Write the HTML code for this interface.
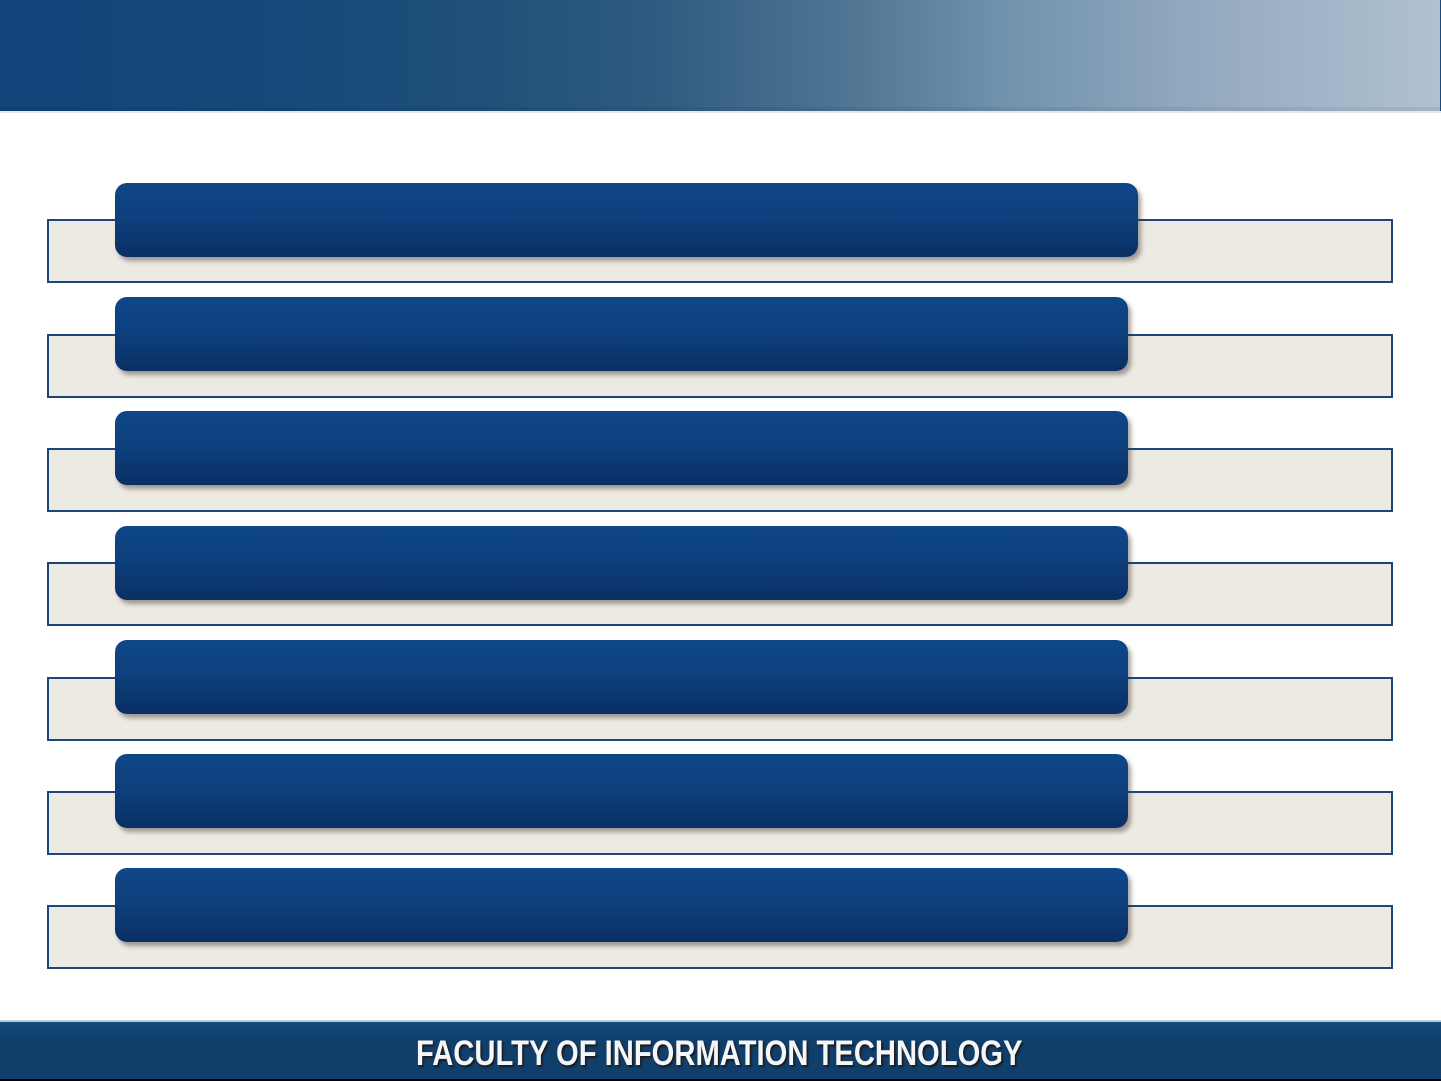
<!DOCTYPE html>
<html><head><meta charset="utf-8"><style>
html,body{margin:0;padding:0;}
body{width:1441px;height:1081px;position:relative;overflow:hidden;background:#ffffff;font-family:"Liberation Sans",sans-serif;}
.hdr{position:absolute;left:0;top:0;width:1441px;height:111px;
background:linear-gradient(to right,#12457a 0%,#17497a 20%,#1f5079 33%,#2e5a80 45%,#4a7190 57%,#7193ae 70%,#93a9bf 83%,#b0c1d1 100%);}
.hdr:after{content:"";position:absolute;left:0;right:0;bottom:0;height:4px;background:rgba(0,0,0,0.06);}
.hedge{position:absolute;left:1440px;top:0;width:1px;height:111px;background:#1a4a7a;}
.hline{position:absolute;left:0;top:111px;width:1441px;height:2px;background:#dfe8ef;}
.box{position:absolute;left:47px;width:1342px;height:60px;background:#edeae4;border:2px solid #1d477c;}
.pill{position:absolute;left:115px;height:74px;border-radius:12px;
background:linear-gradient(to bottom,#0f4788 0%,#0d3f7c 50%,#0a2f64 100%);
box-shadow:3px 4px 5px rgba(60,50,40,0.45);}
.ftr{position:absolute;left:0;top:1022px;width:1441px;height:57px;
background:linear-gradient(to bottom,#1a4a75 0%,#0f4275 20%,#113f6c 35%,#113f6b 100%);}
.fline{position:absolute;left:0;top:1020px;width:1441px;height:2px;background:#b9cbd8;}
.fblk{position:absolute;left:0;top:1079px;width:1441px;height:2px;background:#000;}
.ftxt{position:absolute;left:416px;top:1034px;font-weight:bold;font-size:35px;line-height:40px;color:#f4f6f8;white-space:nowrap;
transform:scaleX(0.834);transform-origin:0 0;text-shadow:2px 2px 2px #1b1b1b;}
</style></head><body>
<div class="hdr"></div>
<div class="hedge"></div>
<div class="hline"></div>

<div class="box" style="top:219px"></div>
<div class="pill" style="top:183px;width:1023px"></div>

<div class="box" style="top:334px"></div>
<div class="pill" style="top:297px;width:1013px"></div>

<div class="box" style="top:448px"></div>
<div class="pill" style="top:411px;width:1013px"></div>

<div class="box" style="top:562px"></div>
<div class="pill" style="top:526px;width:1013px"></div>

<div class="box" style="top:677px"></div>
<div class="pill" style="top:640px;width:1013px"></div>

<div class="box" style="top:791px"></div>
<div class="pill" style="top:754px;width:1013px"></div>

<div class="box" style="top:905px"></div>
<div class="pill" style="top:868px;width:1013px"></div>

<div class="fline"></div>
<div class="ftr"></div>
<div class="ftxt">FACULTY OF INFORMATION TECHNOLOGY</div>
<div class="fblk"></div>
</body></html>
